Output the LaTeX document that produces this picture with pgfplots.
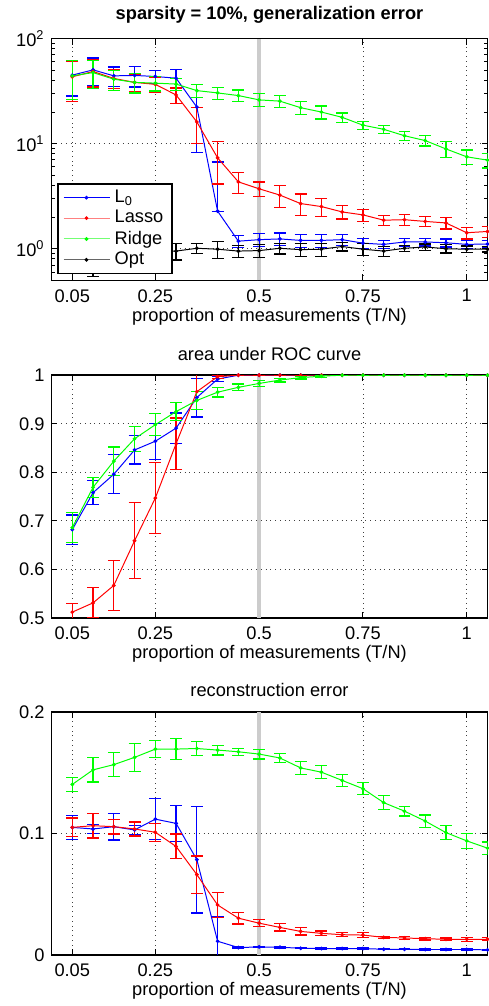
\documentclass[border=0pt]{standalone}
\usepackage{fontspec}
\setmainfont{Liberation Sans}
\usepackage{pgfplots}
\usepackage{pgfplotstable}
\pgfplotsset{compat=1.18}

\newcommand\fs{\fontsize{9.2}{11}\selectfont}

% generalization error (linear errors, plus / minus)
\pgfplotstableread{
x y ep em
0.05 44.9 16.5 16.5
0.10 50.4 15 15
0.15 44.2 9.5 9.5
0.20 44.6 10 10
0.25 43.6 6.5 6.5
0.30 42.0 8.7 8.7
0.35 22.3 14 14
0.40 2.28 4.4 0
0.45 1.18 0.15 0.15
0.50 1.22 0.17 0.17
0.55 1.24 0.17 0.17
0.60 1.20 0.17 0.17
0.65 1.20 0.17 0.17
0.70 1.22 0.15 0.15
0.75 1.13 0.13 0.13
0.80 1.10 0.10 0.10
0.85 1.16 0.10 0.10
0.90 1.16 0.10 0.10
0.95 1.14 0.10 0.10
1.00 1.10 0.10 0.10
1.05 1.11 0.08 0.08
}\genL
\pgfplotstableread{
x y ep em
0.05 43.3 18 18
0.10 48.6 14 14
0.15 41.8 8.5 8.5
0.20 38.3 7 7
0.25 36.7 6 6
0.30 29.1 4.8 4.8
0.35 16.1 6 6
0.40 7.33 3.2 3.2
0.45 4.33 1.0 1.0
0.50 3.72 0.6 0.6
0.55 3.24 0.75 0.75
0.60 2.69 0.63 0.63
0.65 2.52 0.48 0.48
0.70 2.24 0.32 0.32
0.75 2.10 0.28 0.28
0.80 1.87 0.22 0.22
0.85 1.89 0.22 0.22
0.90 1.82 0.20 0.20
0.95 1.76 0.22 0.22
1.00 1.42 0.18 0.18
1.05 1.46 0.17 0.17
}\genLasso
\pgfplotstableread{
x y ep em
0.05 44.2 18 18
0.10 47.5 14 14
0.15 41.1 9 9
0.20 38.3 8 8
0.25 37.7 6 6
0.30 36.9 5 5
0.35 32.0 4.3 4.3
0.40 30.4 3.9 3.9
0.45 28.7 3.7 3.7
0.50 26.1 3.7 3.7
0.55 25.4 3.2 3.2
0.60 22.0 3.0 3.0
0.65 20.0 2.8 2.8
0.70 17.8 1.8 1.8
0.75 15.0 1.3 1.3
0.80 13.7 1.3 1.3
0.85 11.9 1.2 1.2
0.90 10.7 1.2 1.2
0.95 8.91 1.5 1.5
1.00 7.50 1.2 1.2
1.05 6.97 1.1 1.1
}\genRidge
\pgfplotstableread{
x y ep em
0.05 0.95 0.25 0.25
0.10 0.97 0.43 0.43
0.15 1.00 0.25 0.25
0.20 0.98 0.20 0.20
0.25 0.96 0.15 0.15
0.30 0.95 0.17 0.17
0.35 1.01 0.11 0.11
0.40 0.99 0.18 0.18
0.45 0.95 0.13 0.13
0.50 0.96 0.13 0.13
0.55 1.01 0.12 0.12
0.60 0.98 0.14 0.14
0.65 0.99 0.14 0.14
0.70 1.05 0.10 0.10
0.75 0.99 0.13 0.13
0.80 0.95 0.10 0.10
0.85 1.01 0.07 0.07
0.90 1.04 0.07 0.07
0.95 1.00 0.09 0.09
1.00 0.99 0.07 0.07
1.05 0.99 0.06 0.06
}\genOpt

% area under ROC curve
\pgfplotstableread{
x y e
0.05 0.682 0.030
0.10 0.758 0.025
0.15 0.796 0.040
0.20 0.846 0.029
0.25 0.864 0.037
0.30 0.891 0.031
0.35 0.954 0.040
0.40 0.992 0.005
0.45 1.000 0.001
0.50 1.000 0.001
0.55 1.000 0.001
0.60 1.000 0.001
0.65 1.000 0.001
0.70 1.000 0.001
0.75 1.000 0.001
0.80 1.000 0.001
0.85 1.000 0.001
0.90 1.000 0.001
0.95 1.000 0.001
1.00 1.000 0.001
1.05 1.000 0.001
}\rocL
\pgfplotstableread{
x y e
0.05 0.512 0.018
0.10 0.531 0.031
0.15 0.567 0.052
0.20 0.659 0.078
0.25 0.747 0.073
0.30 0.859 0.053
0.35 0.966 0.036
0.40 0.997 0.003
0.45 1.000 0.001
0.50 1.000 0.001
0.55 1.000 0.001
0.60 1.000 0.001
0.65 1.000 0.001
0.70 1.000 0.001
0.75 1.000 0.001
0.80 1.000 0.001
0.85 1.000 0.001
0.90 1.000 0.001
0.95 1.000 0.001
1.00 1.000 0.001
1.05 1.000 0.001
}\rocLasso
\pgfplotstableread{
x y e
0.05 0.686 0.031
0.10 0.769 0.021
0.15 0.823 0.029
0.20 0.869 0.026
0.25 0.898 0.023
0.30 0.925 0.018
0.35 0.948 0.018
0.40 0.965 0.010
0.45 0.975 0.007
0.50 0.983 0.006
0.55 0.990 0.004
0.60 0.995 0.003
0.65 0.998 0.002
0.70 1.000 0.001
0.75 1.000 0.001
0.80 1.000 0.001
0.85 1.000 0.001
0.90 1.000 0.001
0.95 1.000 0.001
1.00 1.000 0.001
1.05 1.000 0.001
}\rocRidge

% reconstruction error
\pgfplotstableread{
x y e
0.05 0.1050 0.0098
0.10 0.1037 0.0040
0.15 0.1056 0.0110
0.20 0.1029 0.0035
0.25 0.1118 0.0170
0.30 0.1083 0.0147
0.35 0.0784 0.0440
0.40 0.0112 0.0200
0.45 0.0060 0.0005
0.50 0.0065 0.0006
0.55 0.0063 0.0006
0.60 0.0054 0.0005
0.65 0.0052 0.0005
0.70 0.0052 0.0005
0.75 0.0052 0.0006
0.80 0.0046 0.0005
0.85 0.0046 0.0005
0.90 0.0044 0.0006
0.95 0.0044 0.0006
1.00 0.0044 0.0005
1.05 0.0041 0.0005
}\recL
\pgfplotstableread{
x y e
0.05 0.1050 0.0078
0.10 0.1064 0.0102
0.15 0.1056 0.0060
0.20 0.1037 0.0058
0.25 0.1010 0.0075
0.30 0.0893 0.0102
0.35 0.0661 0.0154
0.40 0.0411 0.0105
0.45 0.0302 0.0048
0.50 0.0261 0.0029
0.55 0.0226 0.0030
0.60 0.0193 0.0030
0.65 0.0177 0.0020
0.70 0.0166 0.0015
0.75 0.0163 0.0018
0.80 0.0144 0.0010
0.85 0.0139 0.0012
0.90 0.0133 0.0010
0.95 0.0128 0.0010
1.00 0.0128 0.0015
1.05 0.0128 0.0012
}\recLasso
\pgfplotstableread{
x y e
0.05 0.1404 0.0055
0.10 0.1524 0.0100
0.15 0.1567 0.0100
0.20 0.1627 0.0115
0.25 0.1695 0.0070
0.30 0.1695 0.0085
0.35 0.1700 0.0057
0.40 0.1687 0.0040
0.45 0.1673 0.0030
0.50 0.1654 0.0040
0.55 0.1622 0.0038
0.60 0.1540 0.0053
0.65 0.1505 0.0055
0.70 0.1437 0.0050
0.75 0.1369 0.0050
0.80 0.1254 0.0056
0.85 0.1184 0.0040
0.90 0.1102 0.0050
0.95 0.1007 0.0057
1.00 0.0939 0.0060
1.05 0.0879 0.0050
}\recRidge

\pgfplotsset{
  panel/.style={
    scale only axis, width=220pt, height=122.5pt,
    xmin=0, xmax=1.05,
    xtick={0.05,0.25,0.5,0.75,1}, xticklabels={0.05,0.25,0.5,0.75,1},
    grid=major, major grid style={dotted, black!75, line width=0.4pt},
    axis line style={line width=0.8pt},
    tick style={black, line width=0.5pt},
    major tick length=3pt, minor tick length=1.8pt,
    xlabel={proportion of measurements (T/N)},
    tick label style={font=\fs}, label style={font=\fs}, title style={font=\fs, yshift=-2pt},
    xlabel style={yshift=4pt},
    xticklabel style={yshift=-1pt},
    /pgf/number format/assume math mode=true,
  },
  eb/.style={line width=0.5pt, mark=*, mark size=0.7pt,
    error bars/.cd, y dir=both, y explicit,
    error bar style={line width=0.6pt, solid},
    error mark options={rotate=90, mark size=3pt, line width=0.6pt}},
  legimg/.style={line width=0.5pt, #1, mark=*, mark size=0.7pt},
}

\begin{document}
\begin{tikzpicture}
% top: generalization error
\begin{axis}[panel, at={(0pt,0pt)}, anchor=north west, height=122pt,
    ymode=log, ymin=0.5, ymax=100,
    ytick={1,10,100}, yticklabels={10\textsuperscript{0},10\textsuperscript{1},10\textsuperscript{2}},
    minor ytick={0.5,0.6,0.7,0.8,0.9,2,3,4,5,6,7,8,9,20,30,40,50,60,70,80,90},
    title={\bfseries sparsity = 10\%, generalization error},
    legend style={at={(0.0136,0.0246)}, anchor=south west, draw=black, line width=0.8pt,
      font=\fs, inner xsep=2.5pt, inner ysep=1pt, row sep=-1.5pt, cells={anchor=west}},
    legend image code/.code={\path (-2pt,0pt) -- (21.5pt,0pt);
      \draw[#1] (0pt,0pt) -- (19pt,0pt);
      \draw[#1, only marks] plot coordinates {(9.5pt,0pt)};}]
\draw[gray!40, line width=2pt] (axis cs:0.5,0.5) -- (axis cs:0.5,100);
\addlegendimage{legimg={blue}, mark options={blue}}
\addlegendentry{L\textsubscript{0}}
\addlegendimage{legimg={red!50}, mark options={red}}
\addlegendentry{Lasso}
\addlegendimage{legimg={green!55}, mark options={green}}
\addlegendentry{Ridge}
\addlegendimage{legimg={black!60}, mark options={black}}
\addlegendentry{Opt}
\addplot[forget plot, blue, eb] table[x=x, y=y, y error plus=ep, y error minus=em] {\genL};
\addplot[forget plot, red, eb] table[x=x, y=y, y error plus=ep, y error minus=em] {\genLasso};
\addplot[forget plot, green, eb] table[x=x, y=y, y error plus=ep, y error minus=em] {\genRidge};
\addplot[forget plot, black, eb] table[x=x, y=y, y error plus=ep, y error minus=em] {\genOpt};
\end{axis}

% middle: area under ROC curve
\begin{axis}[panel, at={(0pt,-169.85pt)}, anchor=north west,
    ymin=0.5, ymax=1, ytick={0.5,0.6,0.7,0.8,0.9,1},
    yticklabels={0.5,0.6,0.7,0.8,0.9,1},
    title={area under ROC curve}]
\draw[gray!40, line width=2pt] (axis cs:0.5,0.5) -- (axis cs:0.5,1);
\addplot[blue, eb] table[x=x, y=y, y error=e] {\rocL};
\addplot[red, eb] table[x=x, y=y, y error=e] {\rocLasso};
\addplot[green, eb] table[x=x, y=y, y error=e] {\rocRidge};
\end{axis}

% bottom: reconstruction error
\begin{axis}[panel, at={(0pt,-339.85pt)}, anchor=north west,
    ymin=0, ymax=0.2, ytick={0,0.1,0.2}, yticklabels={0,0.1,0.2},
    title={reconstruction error}]
\draw[gray!40, line width=2pt] (axis cs:0.5,0) -- (axis cs:0.5,0.2);
\addplot[blue, eb] table[x=x, y=y, y error=e] {\recL};
\addplot[red, eb] table[x=x, y=y, y error=e] {\recLasso};
\addplot[green, eb] table[x=x, y=y, y error=e] {\recRidge};
\end{axis}

\path (-26pt,16.5pt) rectangle (220.5pt,-486.5pt);
\end{tikzpicture}
\end{document}
